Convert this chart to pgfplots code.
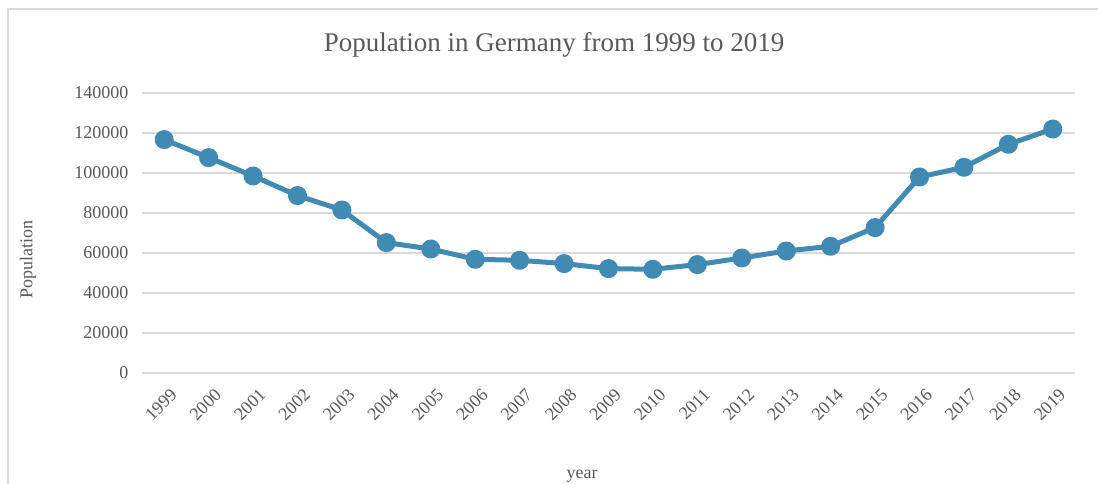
\documentclass[border=0pt]{standalone}
\usepackage{fontspec}
\setmainfont{Liberation Serif}
\usepackage{pgfplots}
\pgfplotsset{compat=1.18}
\usepackage{pgfplotstable}

\definecolor{linecol}{HTML}{418AB3}
\definecolor{gridcol}{HTML}{D9D9D9}
\definecolor{txtcol}{HTML}{595959}

% year index (0 = 1999) and population
\pgfplotstableread{
idx pop
0  116700
1  107700
2  98500
3  88700
4  81500
5  65200
6  62000
7  56850
8  56350
9  54700
10 52200
11 51850
12 54200
13 57500
14 61000
15 63350
16 72700
17 98000
18 102850
19 114350
20 122000
}\popdata

\begin{document}
\begin{tikzpicture}[x=1pt,y=1pt]
\useasboundingbox (0,0) rectangle (1098,484);
% chart frame
\draw[gridcol, line width=1.5pt] (8,-5) -- (8,475) -- (1103,475);

\begin{axis}[
  at={(142pt,111pt)}, anchor=south west,
  scale only axis, width=933pt, height=280pt,
  xmin=-0.5, xmax=20.5, ymin=0, ymax=140000,
  axis line style={draw=none},
  xtick={0,...,20},
  xticklabels={1999,2000,2001,2002,2003,2004,2005,2006,2007,2008,2009,2010,2011,2012,2013,2014,2015,2016,2017,2018,2019},
  ytick={0,20000,40000,60000,80000,100000,120000,140000},
  yticklabels={0,20000,40000,60000,80000,100000,120000,140000},
  scaled y ticks=false,
  major tick length=0pt,
  ymajorgrids, grid style={gridcol, line width=1.5pt},
  ticklabel style={font=\fontsize{18}{18}\selectfont, text=txtcol},
  yticklabel style={xshift=-10pt},
  xticklabel style={rotate=45, anchor=east, yshift=-20pt, xshift=-3pt},
  clip=false,
]
\addplot[linecol, line width=5pt, line join=round, mark=*, mark size=7pt,
  mark options={solid, fill=linecol, draw=none}]
  table[x=idx, y=pop] {\popdata};
\end{axis}

\node[text=txtcol, font=\fontsize{27}{27}\selectfont] at (554,439) {Population in Germany from 1999 to 2019};
\node[text=txtcol, font=\fontsize{18}{18}\selectfont, rotate=90] at (28,224) {Population};
\node[text=txtcol, font=\fontsize{18}{18}\selectfont] at (582,8) {year};
\end{tikzpicture}
\end{document}
